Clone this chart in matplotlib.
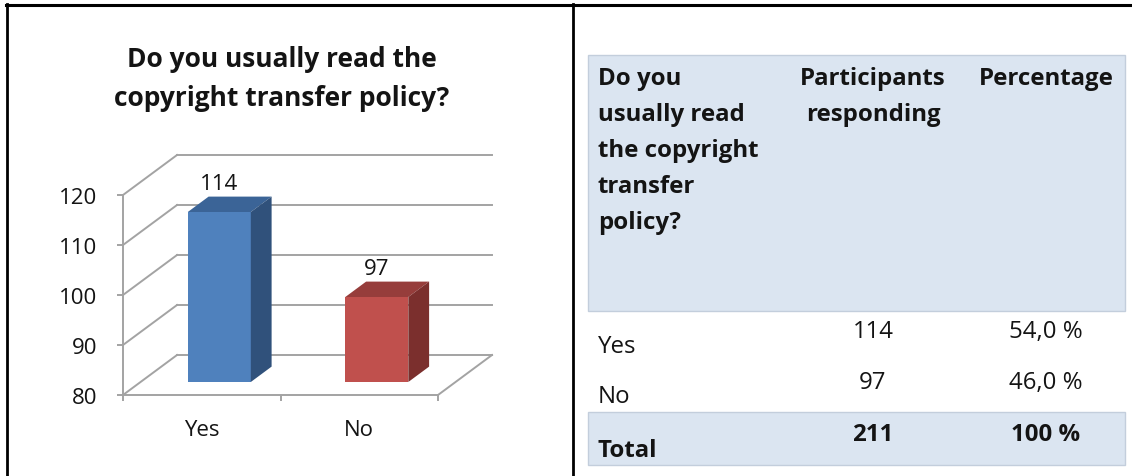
import matplotlib.pyplot as plt
from matplotlib.patches import Rectangle, Polygon
from matplotlib.lines import Line2D

plt.rcParams['font.family'] = ['Open Sans', 'DejaVu Sans']

# survey answers
categories = ['Yes', 'No']
responses = [114, 97]
yticks = [80, 90, 100, 110, 120]

# table contents
header_question = ['Do you', 'usually read', 'the copyright', 'transfer', 'policy?']
header_count = ['Participants', 'responding']
header_pct = ['Percentage']
row_labels = ['Yes', 'No']
row_counts = ['114', '97']
row_pcts = ['54,0 %', '46,0 %']
total_label = 'Total'
total_count = '211'
total_pct = '100 %'

W, H = 1132, 477
fig = plt.figure(figsize=(W / 100, H / 100), dpi=100)


def fx(px):
    return px / W


def fy(py):
    return 1 - py / H


# outer frame and divider
for xs, ys, lw in [((6, W), (5.5, 5.5), 2.2), ((7, 7), (5, H), 2.0), ((573, 573), (5, H), 2.0)]:
    fig.add_artist(Line2D([fx(x) for x in xs], [fy(y) for y in ys], color='black', lw=lw))

# ---- 3D-looking column chart ----
ax = fig.add_axes([fx(123), fy(396), fx(315), 200 / H])
ax.set_xlim(0, 2)
ax.set_ylim(80, 120)

DX, DY = 0.343, 8.0          # depth of the back wall in x units / value units
f0, f1 = 0.325, 0.71         # front and back of the columns as fraction of depth
bw = 0.4
grid_c = '#a3a3a3'
txt_c = '#141414'

for v in yticks:
    ax.plot([0, DX], [v, v + DY], color=grid_c, lw=1.4, clip_on=False, zorder=1)
    ax.plot([DX, 2 + DX], [v + DY, v + DY], color=grid_c, lw=1.4, clip_on=False, zorder=1)
ax.plot([2, 2 + DX], [80, 80 + DY], color=grid_c, lw=1.4, clip_on=False, zorder=1)

for s in ['top', 'right']:
    ax.spines[s].set_visible(False)
for s in ['left', 'bottom']:
    ax.spines[s].set_color(grid_c)
    ax.spines[s].set_linewidth(1.4)
ax.set_yticks(yticks)
ax.set_xticks([0, 1, 2])
ax.set_xticklabels([])
ax.tick_params(axis='both', color=grid_c, width=1.4, length=4.5)
ax.tick_params(axis='y', labelsize=16, pad=14, labelcolor=txt_c)
ax.patch.set_alpha(0)

colors = [('#4f81bd', '#3b6497', '#30517b'), ('#c0504d', '#963d3b', '#7b2f2d')]
d = (f1 - f0)
for i, (cat, v) in enumerate(zip(categories, responses)):
    c = i + 0.5
    front, top, side = colors[i]
    x0 = c - bw / 2 + f0 * DX
    x1 = x0 + bw
    yb = 80 + f0 * DY
    yt = v + f0 * DY
    ax.add_patch(Rectangle((x0, yb), bw, v - 80, facecolor=front, edgecolor='none', zorder=3, clip_on=False))
    ax.add_patch(Polygon([(x0, yt), (x1, yt), (x1 + d * DX, yt + d * DY), (x0 + d * DX, yt + d * DY)],
                         closed=True, facecolor=top, edgecolor='none', zorder=3, clip_on=False))
    ax.add_patch(Polygon([(x1, yb), (x1, yt), (x1 + d * DX, yt + d * DY), (x1 + d * DX, yb + d * DY)],
                         closed=True, facecolor=side, edgecolor='none', zorder=3, clip_on=False))
    ax.annotate(str(v), (x0 + bw / 2, v + f1 * DY), xytext=(0, 2), textcoords='offset points',
                ha='center', va='bottom', fontsize=16, color=txt_c)
    ax.annotate(cat, (c, 80), xytext=(0, -25), textcoords='offset points',
                ha='center', va='center', fontsize=16, color=txt_c)

fig.text(fx(282), fy(67), 'Do you usually read the', ha='center', va='baseline',
         fontsize=19, fontweight='bold', color=txt_c)
fig.text(fx(282), fy(106), 'copyright transfer policy?', ha='center', va='baseline',
         fontsize=19, fontweight='bold', color=txt_c)

# ---- table ----
fill = '#dbe5f1'
edge = '#c3cedc'
fig.add_artist(Rectangle((fx(588), fy(312)), fx(1125 - 588), (312 - 56) / H,
                         facecolor=fill, edgecolor=edge, lw=1))
fig.add_artist(Rectangle((fx(588), fy(466)), fx(1125 - 588), (466 - 413) / H,
                         facecolor=fill, edgecolor=edge, lw=1))

col1, col2, col3 = 598, 873, 1046
tsize = 17.3
for k, line in enumerate(header_question):
    fig.text(fx(col1), fy(85 + 36 * k), line, ha='left', va='baseline', fontsize=tsize,
             fontweight='bold', color=txt_c)
for k, line in enumerate(header_count):
    fig.text(fx(col2), fy(85 + 36 * k), line, ha='center', va='baseline', fontsize=tsize,
             fontweight='bold', color=txt_c)
for k, line in enumerate(header_pct):
    fig.text(fx(col3), fy(85 + 36 * k), line, ha='center', va='baseline', fontsize=tsize,
             fontweight='bold', color=txt_c)

for k, (lab, cnt, pct) in enumerate(zip(row_labels, row_counts, row_pcts)):
    fig.text(fx(col1), fy(353 + 50 * k), lab, ha='left', va='baseline', fontsize=tsize, color=txt_c)
    fig.text(fx(col2), fy(338 + 51 * k), cnt, ha='center', va='baseline', fontsize=tsize, color=txt_c)
    fig.text(fx(col3), fy(338 + 51 * k), pct, ha='center', va='baseline', fontsize=tsize, color=txt_c)

fig.text(fx(col1), fy(457), total_label, ha='left', va='baseline', fontsize=tsize,
         fontweight='bold', color=txt_c)
fig.text(fx(col2), fy(441), total_count, ha='center', va='baseline', fontsize=tsize,
         fontweight='bold', color=txt_c)
fig.text(fx(col3), fy(441), total_pct, ha='center', va='baseline', fontsize=tsize,
         fontweight='bold', color=txt_c)

fig.savefig('out.png', dpi=100)
